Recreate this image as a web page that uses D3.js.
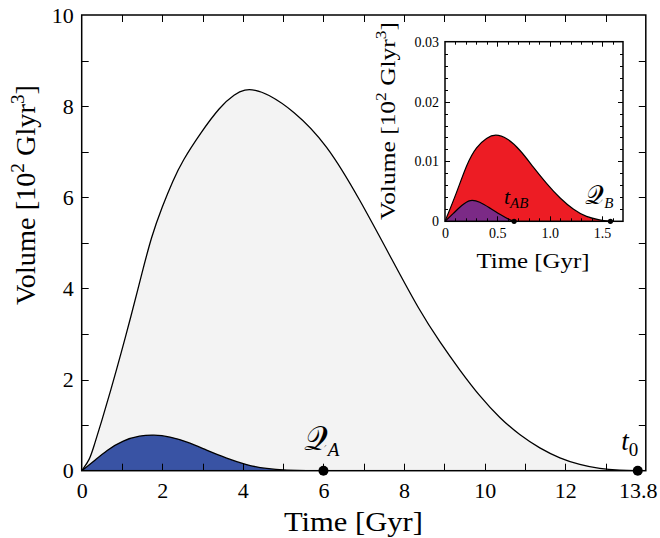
<!DOCTYPE html>
<html>
<head>
<meta charset="utf-8">
<script src="https://cdn.jsdelivr.net/npm/d3@7"></script>
<style>
  body { margin: 0; background: #fff; }
  svg text { font-family: "Liberation Serif", "DejaVu Serif", serif; fill: #000; }
</style>
</head>
<body>
<div id="chart"></div>
<script>
// main plot: total volume (grey) and region A (blue)
var totalT = [0, 0.2, 0.3, 0.5, 0.7, 1.0, 1.2, 1.5, 1.73, 2.0, 2.27, 2.5, 2.94, 3.43, 3.8, 4.05, 4.3, 4.59, 5.24, 6.08, 6.91, 7.72, 8.39, 8.89, 9.38, 9.88, 10.38, 10.87, 11.37, 11.87, 12.36, 12.86, 13.35, 13.8];
var totalV = [0, 0.24, 0.53, 1.1, 1.70, 2.65, 3.31, 4.35, 5.14, 5.8, 6.38, 6.8, 7.40, 7.99, 8.27, 8.37, 8.36, 8.28, 7.92, 7.18, 5.94, 4.6, 3.5, 2.82, 2.21, 1.63, 1.15, 0.78, 0.49, 0.27, 0.13, 0.04, 0.01, 0];
var regionAT = [0, 0.29, 0.62, 1.03, 1.45, 1.78, 2.19, 2.6, 3.1, 3.6, 4.09, 4.59, 5.09, 5.6, 6.0];
var regionAV = [0, 0.20, 0.45, 0.67, 0.77, 0.79, 0.75, 0.64, 0.45, 0.27, 0.125, 0.04, 0.01, 0.0, 0];
var xTicks = [1, 2, 3, 4, 5, 6, 7, 8, 9, 10, 11, 12, 13];
var xLabelValues = [0, 2, 4, 6, 8, 10, 12, 13.8];
var xLabels = ["0", "2", "4", "6", "8", "10", "12", "13.8"];
var yTicks = [1, 2, 3, 4, 5, 6, 7, 8, 9];
var yLabelValues = [0, 2, 4, 6, 8, 10];
var yLabels = ["0", "2", "4", "6", "8", "10"];
var mainMarks = [{t: 6.0, name: "\u{1D4AC}", sub: "A"}, {t: 13.8, name: "t", sub: "0"}];

// inset: region B (red) and region AB (purple)
var regionBT = [0, 0.11, 0.21, 0.30, 0.40, 0.48, 0.59, 0.72, 0.84, 0.97, 1.10, 1.23, 1.35, 1.48, 1.58];
var regionBV = [0, 0.0047, 0.0097, 0.0125, 0.0140, 0.01458, 0.0140, 0.0119, 0.0091, 0.0063, 0.0038, 0.0019, 0.0007, 0.0002, 0];
var regionABT = [0, 0.08, 0.16, 0.24, 0.33, 0.43, 0.53, 0.62, 0.66];
var regionABV = [0, 0.0013, 0.0027, 0.0037, 0.0033, 0.0022, 0.0011, 0.0002, 0];
var insetXMajor = [0.5, 1.0, 1.5];
var insetXMinor = [0.1, 0.2, 0.3, 0.4, 0.6, 0.7, 0.8, 0.9, 1.1, 1.2, 1.3, 1.4, 1.6];
var insetXLabelValues = [0, 0.5, 1.0, 1.5];
var insetXLabels = ["0", "0.5", "1.0", "1.5"];
var insetYMajor = [0.01, 0.02];
var insetYMinor = [0.002, 0.004, 0.006, 0.008, 0.012, 0.014, 0.016, 0.018, 0.022, 0.024, 0.026, 0.028];
var insetYLabelValues = [0, 0.01, 0.02, 0.03];
var insetYLabels = ["0", "0.01", "0.02", "0.03"];
var insetMarks = [{t: 0.66, name: "t", sub: "AB"}, {t: 1.58, name: "\u{1D4AC}", sub: "B"}];

var W = 660, H = 538;
var svg = d3.select("#chart").append("svg").attr("width", W).attr("height", H);
var defs = svg.append("defs");

function pts(ts, vs) { return ts.map(function(t, i) { return {t: t, v: vs[i]}; }); }
var curve = d3.curveBasis;
var mathFont = "'DejaVu Serif', 'DejaVu Sans', 'Liberation Serif', serif";

// inward tick marks on one side of a frame, one path per side
function tickMarks(g, scale, values, horizontal, pos, len, w) {
  var d = values.map(function(v) {
    var p = Math.round(scale(v)) + 0.5;
    return horizontal ? "M" + p + "," + pos + "v" + len : "M" + pos + "," + p + "h" + len;
  }).join("");
  g.append("path").attr("d", d).attr("fill", "none").attr("stroke", "#000").attr("stroke-width", w);
}

function panel(g, id, x, y, xMax, yMax) {
  defs.append("clipPath").attr("id", id).append("rect")
    .attr("x", x(0)).attr("y", y(yMax)).attr("width", x(xMax) - x(0)).attr("height", y(0) - y(yMax));
  var area = d3.area().curve(curve)
    .x(function(d) { return x(d.t); }).y0(y(0)).y1(function(d) { return y(d.v); });
  var line = d3.line().curve(curve)
    .x(function(d) { return x(d.t); }).y(function(d) { return y(d.v); });
  var plot = g.append("g").attr("clip-path", "url(#" + id + ")");
  return {plot: plot, area: area, line: line};
}

// ---------- main plot ----------
var x = d3.scaleLinear().domain([0, 14]).range([81.7, 645.8]);
var y = d3.scaleLinear().domain([0, 10]).range([470.7, 15]);
var main = svg.append("g");
var mp = panel(main, "clipMain", x, y, 14, 10);
mp.plot.append("path").datum(pts(totalT, totalV)).attr("d", mp.area).attr("fill", "#f3f3f3");
mp.plot.append("path").datum(pts(totalT, totalV)).attr("d", mp.line).attr("fill", "none").attr("stroke", "#000").attr("stroke-width", 1.3);
mp.plot.append("path").datum(pts(regionAT, regionAV)).attr("d", mp.area).attr("fill", "#3953a4");
mp.plot.append("path").datum(pts(regionAT, regionAV)).attr("d", mp.line).attr("fill", "none").attr("stroke", "#000").attr("stroke-width", 1.3);

main.append("g").attr("transform", "translate(0," + y(0) + ")")
  .call(d3.axisBottom(x).tickValues(xLabelValues).tickSize(0).tickPadding(12)
    .tickFormat(function(d) { return xLabels[xLabelValues.indexOf(d)]; }));
main.append("g").attr("transform", "translate(" + x(0) + ",0)")
  .call(d3.axisLeft(y).tickValues(yLabelValues).tickSize(0).tickPadding(8)
    .tickFormat(function(d) { return yLabels[yLabelValues.indexOf(d)]; }));
main.selectAll(".domain").remove();
main.selectAll(".tick text").style("font-size", "22px").style("font-family", "'Liberation Serif', serif");
main.append("rect").attr("x", x(0)).attr("y", y(10)).attr("width", x(14) - x(0)).attr("height", y(0) - y(10))
  .attr("fill", "none").attr("stroke", "#000").attr("stroke-width", 1.5);

tickMarks(main, x, xTicks, true, y(0), -7, 1);
tickMarks(main, x, xTicks, true, y(10), 7, 1);
tickMarks(main, y, yTicks, false, x(0), 7, 1);
tickMarks(main, y, yTicks, false, x(14), -7, 1);

var mainShift = [-2, -8];
var mainNameSize = ["33px", "27px"];
main.selectAll("circle.mark").data(mainMarks).enter().append("circle")
  .attr("cx", function(d) { return x(d.t); }).attr("cy", y(0)).attr("r", 5).attr("fill", "#000");
var mt = main.selectAll("text.mark").data(mainMarks).enter().append("text")
  .attr("x", function(d, i) { return x(d.t) + mainShift[i]; }).attr("y", y(0) - 21)
  .attr("text-anchor", "middle").style("font-size", "27px");
mt.append("tspan").style("font-style", function(d, i) { return i ? "italic" : "normal"; })
  .style("font-size", function(d, i) { return mainNameSize[i]; })
  .style("font-family", function(d, i) { return i ? null : mathFont; }).text(function(d) { return d.name; });
mt.append("tspan").attr("dy", 6).style("font-size", "19px").style("font-style", function(d, i) { return i ? "normal" : "italic"; }).text(function(d) { return d.sub; });

main.append("text").attr("x", 353.5).attr("y", 531).attr("text-anchor", "middle")
  .attr("textLength", 139).attr("lengthAdjust", "spacingAndGlyphs")
  .style("font-size", "28px").text("Time [Gyr]");
var yl = main.append("text").attr("transform", "translate(35,195) rotate(-90)").attr("text-anchor", "middle")
  .attr("textLength", 220).attr("lengthAdjust", "spacingAndGlyphs").style("font-size", "28px");
yl.append("tspan").text("Volume [10");
yl.append("tspan").attr("dy", -11).style("font-size", "19px").text("2");
yl.append("tspan").attr("dy", 11).text(" Glyr");
yl.append("tspan").attr("dy", -11).style("font-size", "19px").text("3");
yl.append("tspan").attr("dy", 11).text("]");

// ---------- inset ----------
var xi = d3.scaleLinear().domain([0, 1.7]).range([445, 623]);
var yi = d3.scaleLinear().domain([0, 0.03]).range([221.3, 41.7]);
var inset = svg.append("g");
inset.append("rect").attr("x", xi(0)).attr("y", yi(0.03)).attr("width", xi(1.7) - xi(0)).attr("height", yi(0) - yi(0.03)).attr("fill", "#fff");
var ip = panel(inset, "clipInset", xi, yi, 1.7, 0.03);
ip.plot.append("path").datum(pts(regionBT, regionBV)).attr("d", ip.area).attr("fill", "#ed1c24");
ip.plot.append("path").datum(pts(regionBT, regionBV)).attr("d", ip.line).attr("fill", "none").attr("stroke", "#000").attr("stroke-width", 1.2);
ip.plot.append("path").datum(pts(regionABT, regionABV)).attr("d", ip.area).attr("fill", "#7b2a86");
ip.plot.append("path").datum(pts(regionABT, regionABV)).attr("d", ip.line).attr("fill", "none").attr("stroke", "#000").attr("stroke-width", 1.2);

inset.append("g").attr("transform", "translate(0," + yi(0) + ")")
  .call(d3.axisBottom(xi).tickValues(insetXLabelValues).tickSize(0).tickPadding(7)
    .tickFormat(function(d) { return insetXLabels[insetXLabelValues.indexOf(d)]; }));
inset.append("g").attr("transform", "translate(" + xi(0) + ",0)")
  .call(d3.axisLeft(yi).tickValues(insetYLabelValues).tickSize(0).tickPadding(6)
    .tickFormat(function(d) { return insetYLabels[insetYLabelValues.indexOf(d)]; }));
inset.selectAll(".domain").remove();
inset.selectAll(".tick text").style("font-size", "14px").style("font-family", "'Liberation Serif', serif");
inset.append("rect").attr("x", xi(0)).attr("y", yi(0.03)).attr("width", xi(1.7) - xi(0)).attr("height", yi(0) - yi(0.03))
  .attr("fill", "none").attr("stroke", "#000").attr("stroke-width", 1.5);

tickMarks(inset, xi, insetXMajor, true, yi(0), -5, 1);
tickMarks(inset, xi, insetXMinor, true, yi(0), -3, 1);
tickMarks(inset, xi, insetXMajor, true, yi(0.03), 5, 1);
tickMarks(inset, xi, insetXMinor, true, yi(0.03), 3, 1);
tickMarks(inset, yi, insetYMajor, false, xi(0), 5, 1);
tickMarks(inset, yi, insetYMinor, false, xi(0), 3, 1);
tickMarks(inset, yi, insetYMajor, false, xi(1.7), -5, 1);
tickMarks(inset, yi, insetYMinor, false, xi(1.7), -3, 1);

var insetShift = [2, -11];
var insetNameSize = ["22px", "26px"];
inset.selectAll("circle.mark").data(insetMarks).enter().append("circle")
  .attr("cx", function(d) { return xi(d.t); }).attr("cy", yi(0)).attr("r", 2.6).attr("fill", "#000");
var it = inset.selectAll("text.mark").data(insetMarks).enter().append("text")
  .attr("x", function(d, i) { return xi(d.t) + insetShift[i]; }).attr("y", yi(0) - 17)
  .attr("text-anchor", "middle").style("font-size", "22px");
it.append("tspan").style("font-style", function(d, i) { return i ? "normal" : "italic"; })
  .style("font-size", function(d, i) { return insetNameSize[i]; })
  .style("font-family", function(d, i) { return i ? mathFont : null; }).text(function(d) { return d.name; });
it.append("tspan").attr("dy", 4).style("font-size", "15px").style("font-style", "italic").text(function(d) { return d.sub; });

inset.append("text").attr("x", 533).attr("y", 268).attr("text-anchor", "middle")
  .attr("textLength", 113).attr("lengthAdjust", "spacingAndGlyphs")
  .style("font-size", "22px").text("Time [Gyr]");
var iyl = inset.append("text").attr("transform", "translate(395,121) rotate(-90)").attr("text-anchor", "middle")
  .attr("textLength", 198).attr("lengthAdjust", "spacingAndGlyphs").style("font-size", "22px");
iyl.append("tspan").text("Volume [10");
iyl.append("tspan").attr("dy", -9).style("font-size", "15px").text("2");
iyl.append("tspan").attr("dy", 9).text(" Glyr");
iyl.append("tspan").attr("dy", -9).style("font-size", "15px").text("3");
iyl.append("tspan").attr("dy", 9).text("]");
</script>
</body>
</html>
